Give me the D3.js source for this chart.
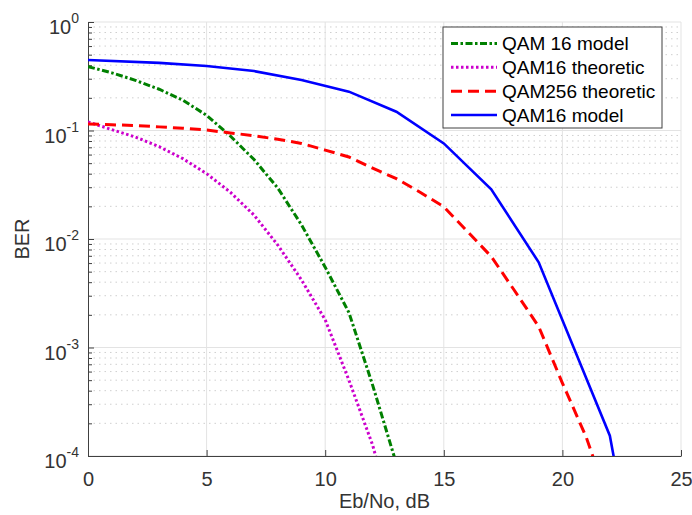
<!DOCTYPE html>
<html>
<head>
<meta charset="utf-8">
<script src="https://cdn.jsdelivr.net/npm/d3@7"></script>
<style>
  body { margin: 0; background: #fff; }
  text { font-family: "Liberation Sans", Arial, Helvetica, sans-serif; }
</style>
</head>
<body>
<div id="chart"></div>
<script>
// ── DATA ─────────────────────────────────────────────────────────
const seriesNames = ["QAM 16 model", "QAM16 theoretic", "QAM256 theoretic", "QAM16 model"];

const ebnoGreen = [0, 1, 2, 3, 4, 5, 6, 7, 8, 9, 10, 11, 12, 13];
const berGreen  = [0.388, 0.34, 0.29, 0.24, 0.19, 0.138, 0.089, 0.054, 0.0295, 0.0135, 0.0055, 0.0021, 4.5e-4, 8.5e-5];

const ebnoMagenta = [0, 1, 2, 3, 4, 5, 6, 7, 8, 9, 10, 11, 12, 13];
const berMagenta  = [0.12, 0.102, 0.087, 0.071, 0.055, 0.04, 0.027, 0.0166, 0.0088, 0.0042, 0.0018, 5e-4, 1.26e-4, 2e-5];

const ebnoRed = [0, 1, 2, 3, 4, 5, 6, 7, 8, 9, 10, 11, 12, 13, 14, 15, 16, 17, 18, 19, 20, 21, 22];
const berRed  = [0.115, 0.113, 0.111, 0.108, 0.105, 0.101, 0.095, 0.0895, 0.083, 0.076, 0.066, 0.057, 0.045,
                 0.036, 0.027, 0.0198, 0.0117, 0.0069, 0.0033, 0.00156, 4.7e-4, 1.5e-4, 3.5e-5];

const ebnoBlue = [0, 3, 5, 7, 9, 11, 13, 15, 17, 19, 22, 23];
const berBlue  = [0.447, 0.42, 0.393, 0.353, 0.292, 0.228, 0.149, 0.076, 0.0287, 0.0061, 1.54e-4, 1e-5];

const xTicks = [0, 5, 10, 15, 20, 25];
const yExponents = [0, -1, -2, -3, -4];

// ── DIMENSIONS ────────────────────────────────────────────────────
const W = 692, H = 515;
const plot = { left: 88, right: 681, top: 22, bottom: 456 };
const axisColor = "#404040";

const svg = d3.select("#chart").append("svg")
  .attr("width", W).attr("height", H);

// ── SCALES ────────────────────────────────────────────────────────
const x = d3.scaleLinear().domain([0, 25]).range([plot.left, plot.right]);
const y = d3.scaleLog().domain([1e-4, 1]).range([plot.bottom, plot.top]);

const majorY = yExponents.map(e => Math.pow(10, e));
const minorY = [];
for (let e = -4; e < 0; e++) for (let m = 2; m <= 9; m++) minorY.push(m * Math.pow(10, e));

// ── GRID ──────────────────────────────────────────────────────────
const grid = svg.append("g");
grid.selectAll(".minor-y").data(minorY).join("line")
  .attr("x1", plot.left).attr("x2", plot.right)
  .attr("y1", d => y(d)).attr("y2", d => y(d))
  .attr("stroke", "#cfcfcf").attr("stroke-width", 1)
  .attr("stroke-dasharray", "1.5,4");
grid.selectAll(".major-y").data(majorY).join("line")
  .attr("x1", plot.left).attr("x2", plot.right)
  .attr("y1", d => y(d)).attr("y2", d => y(d))
  .attr("stroke", "#e3e3e3").attr("stroke-width", 1);
grid.selectAll(".major-x").data(xTicks.slice(1)).join("line")
  .attr("x1", d => x(d)).attr("x2", d => x(d))
  .attr("y1", plot.top).attr("y2", plot.bottom)
  .attr("stroke", "#e3e3e3").attr("stroke-width", 1);

// ── AXES ──────────────────────────────────────────────────────────
const xAxis = svg.append("g")
  .attr("transform", `translate(0,${plot.bottom})`)
  .call(d3.axisBottom(x).tickValues(xTicks).tickSizeInner(-6).tickSizeOuter(0).tickPadding(16));
const yAxis = svg.append("g")
  .attr("transform", `translate(${plot.left},0)`)
  .call(d3.axisLeft(y).tickValues(majorY).tickSizeInner(-6).tickSizeOuter(0).tickFormat(""));
const yMinor = svg.append("g")
  .attr("transform", `translate(${plot.left},0)`)
  .call(d3.axisLeft(y).tickValues(minorY).tickSizeInner(-4).tickSizeOuter(0).tickFormat(""));
yMinor.select(".domain").remove();

[xAxis, yAxis, yMinor].forEach(g => {
  g.selectAll("path, line").attr("stroke", axisColor);
});
xAxis.selectAll("text").attr("font-size", 20).attr("fill", "#333")
  .attr("font-family", "Liberation Sans, Arial, sans-serif");

// y tick labels: 10 with superscript exponent
const yLab = svg.append("g");
yExponents.forEach(e => {
  const ty = y(Math.pow(10, e));
  const t = yLab.append("text")
    .attr("x", 79).attr("y", ty + 12)
    .attr("text-anchor", "end").attr("fill", "#333");
  t.append("tspan").attr("font-size", 20).text("10");
  t.append("tspan").attr("font-size", 14).attr("dy", -11).text(String(e));
});

// axis labels
svg.append("text")
  .attr("x", (plot.left + plot.right) / 2).attr("y", 508)
  .attr("text-anchor", "middle").attr("font-size", 20).attr("fill", "#333")
  .text("Eb/No, dB");
svg.append("text")
  .attr("transform", `translate(29,${(plot.top + plot.bottom) / 2}) rotate(-90)`)
  .attr("text-anchor", "middle").attr("font-size", 20).attr("fill", "#333")
  .text("BER");

// ── LINES ─────────────────────────────────────────────────────────
svg.append("clipPath").attr("id", "clip")
  .append("rect")
  .attr("x", plot.left).attr("y", plot.top)
  .attr("width", plot.right - plot.left).attr("height", plot.bottom - plot.top);

const series = [
  { name: seriesNames[0], xs: ebnoGreen,   ys: berGreen,   color: "#008000", dash: "7,2.5,2.5,2.5", width: 3 },
  { name: seriesNames[1], xs: ebnoMagenta, ys: berMagenta, color: "#cc00cc", dash: "2.5,2.5",        width: 3 },
  { name: seriesNames[2], xs: ebnoRed,     ys: berRed,     color: "#ff0000", dash: "11,6",           width: 3 },
  { name: seriesNames[3], xs: ebnoBlue,    ys: berBlue,    color: "#0000ff", dash: null,             width: 2.6 }
];

const line = d3.line().x(d => x(d[0])).y(d => y(d[1]));

svg.append("g").attr("clip-path", "url(#clip)")
  .selectAll("path").data(series).join("path")
    .attr("d", s => line(s.xs.map((v, i) => [v, s.ys[i]])))
    .attr("fill", "none")
    .attr("stroke", s => s.color)
    .attr("stroke-width", s => s.width)
    .attr("stroke-dasharray", s => s.dash);

// ── LEGEND ────────────────────────────────────────────────────────
const legend = svg.append("g");
legend.append("rect")
  .attr("x", 443).attr("y", 27).attr("width", 219).attr("height", 101)
  .attr("fill", "#fff").attr("stroke", axisColor).attr("stroke-width", 1);

const rowY = d3.scalePoint().domain(seriesNames.map((d, i) => i)).range([43.5, 115]);
const rows = legend.selectAll(".row").data(series).join("g")
  .attr("transform", (s, i) => `translate(0,${rowY(i)})`);
rows.append("line")
  .attr("x1", 451).attr("x2", 497)
  .attr("stroke", s => s.color)
  .attr("stroke-width", s => s.width)
  .attr("stroke-dasharray", s => s.dash);
rows.append("text")
  .attr("x", 502).attr("dy", "0.35em")
  .attr("font-size", 19).attr("fill", "#000")
  .text(s => s.name);
</script>
</body>
</html>
